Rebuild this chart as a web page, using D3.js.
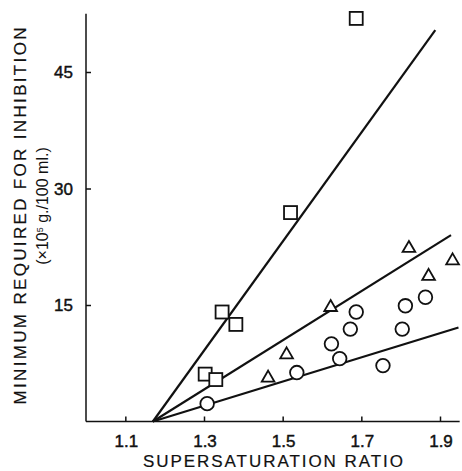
<!DOCTYPE html>
<html>
<head>
<meta charset="utf-8">
<script src="https://cdn.jsdelivr.net/npm/d3@7"></script>
<style>
  body { margin: 0; background: #fff; }
  text { font-family: "Liberation Sans", Arial, sans-serif; fill: #111; }
</style>
</head>
<body>
<div id="chart"></div>
<script>
// data
var squareX = [1.303, 1.330, 1.346, 1.381, 1.520, 1.687];
var squareY = [6.1, 5.4, 14.1, 12.5, 26.9, 51.9];

var triangleX = [1.463, 1.510, 1.622, 1.821, 1.871, 1.932];
var triangleY = [5.6, 8.6, 14.7, 22.3, 18.7, 20.7];

var circleX = [1.308, 1.536, 1.645, 1.624, 1.672, 1.687, 1.755, 1.804, 1.812, 1.863];
var circleY = [2.3, 6.3, 8.1, 10.0, 11.9, 14.1, 7.2, 11.9, 14.9, 16.0];

// fitted lines: start and end points
var lineStart = [1.17, 0];
var squareLineEnd = [1.888, 50.4];
var triangleLineEnd = [1.928, 24.0];
var circleLineEnd = [1.947, 12.1];

var xTicks = [1.1, 1.3, 1.5, 1.7, 1.9];
var yTicks = [15, 30, 45];

var width = 462, height = 471;

var svg = d3.select("#chart")
    .append("svg")
    .attr("width", width)
    .attr("height", height);

// scales
var x = d3.scaleLinear().domain([1.0, 1.9]).range([86, 440]);
var y = d3.scaleLinear().domain([0, 45]).range([421.5, 72]);

var xMax = 1.95, yMax = 52.5;

// axes (ticks point inward)
svg.append("g")
    .attr("transform", "translate(0," + y(0) + ")")
    .call(d3.axisTop(x).tickValues(xTicks).tickSize(5).tickFormat(""))
    .call(function(g) {
        g.select(".domain").remove();
        g.selectAll(".tick line").attr("stroke", "#111").attr("stroke-width", 1.5);
    });

svg.append("g")
    .attr("transform", "translate(" + x(1.0) + ",0)")
    .call(d3.axisRight(y).tickValues(yTicks).tickSize(5).tickFormat(""))
    .call(function(g) {
        g.select(".domain").remove();
        g.selectAll(".tick line").attr("stroke", "#111").attr("stroke-width", 1.5);
    });

// axis lines
svg.append("line")
    .attr("x1", x(1.0)).attr("x2", x(xMax))
    .attr("y1", y(0)).attr("y2", y(0))
    .attr("stroke", "#111").attr("stroke-width", 1.5);
svg.append("line")
    .attr("x1", x(1.0)).attr("x2", x(1.0))
    .attr("y1", y(0)).attr("y2", y(yMax))
    .attr("stroke", "#111").attr("stroke-width", 1.5);

// tick labels
svg.selectAll(".xlab")
    .data(xTicks)
    .enter().append("text")
    .attr("x", function(d) { return x(d) + 1; })
    .attr("y", 447)
    .attr("text-anchor", "middle")
    .style("font-size", "17px")
    .style("stroke", "#111").style("stroke-width", 0.45)
    .text(function(d) { return d.toFixed(1); });

svg.selectAll(".ylab")
    .data(yTicks)
    .enter().append("text")
    .attr("x", 73)
    .attr("y", function(d) { return y(d) + 6; })
    .attr("text-anchor", "end")
    .style("font-size", "17px")
    .style("stroke", "#111").style("stroke-width", 0.45)
    .text(function(d) { return d; });

// axis titles
svg.append("text")
    .attr("x", 273)
    .attr("y", 467)
    .attr("text-anchor", "middle")
    .attr("textLength", 260)
    .attr("lengthAdjust", "spacing")
    .style("font-size", "17px")
    .style("stroke", "#111").style("stroke-width", 0.2)
    .text("SUPERSATURATION RATIO");

svg.append("text")
    .attr("transform", "translate(26,216) rotate(-90)")
    .attr("text-anchor", "middle")
    .attr("textLength", 377)
    .attr("lengthAdjust", "spacing")
    .style("font-size", "17px")
    .style("stroke", "#111").style("stroke-width", 0.2)
    .text("MINIMUM REQUIRED FOR INHIBITION");

var sub = svg.append("text")
    .attr("transform", "translate(48,206) rotate(-90)")
    .attr("text-anchor", "middle")
    .style("font-size", "16px");
sub.append("tspan").text("(\u00D710");
sub.append("tspan").attr("dy", -5).style("font-size", "9px").text("5");
sub.append("tspan").attr("dy", 5).text(" g./100 ml.)");

// regression lines
[squareLineEnd, triangleLineEnd, circleLineEnd].forEach(function(end) {
    svg.append("line")
        .attr("x1", x(lineStart[0])).attr("y1", y(lineStart[1]))
        .attr("x2", x(end[0])).attr("y2", y(end[1]))
        .attr("stroke", "#111")
        .attr("stroke-width", 2.2);
});

// markers
var squares = squareX.map(function(d, i) { return {x: d, y: squareY[i]}; });
var triangles = triangleX.map(function(d, i) { return {x: d, y: triangleY[i]}; });
var circles = circleX.map(function(d, i) { return {x: d, y: circleY[i]}; });

svg.selectAll(".sq")
    .data(squares)
    .enter().append("rect")
    .attr("x", function(d) { return x(d.x) - 6.5; })
    .attr("y", function(d) { return y(d.y) - 6.5; })
    .attr("width", 13).attr("height", 13)
    .attr("fill", "#fff")
    .attr("stroke", "#111")
    .attr("stroke-width", 1.8);

svg.selectAll(".tri")
    .data(triangles)
    .enter().append("path")
    .attr("d", d3.symbol().type(d3.symbolTriangle).size(70))
    .attr("transform", function(d) { return "translate(" + x(d.x) + "," + y(d.y) + ")"; })
    .attr("fill", "#fff")
    .attr("stroke", "#111")
    .attr("stroke-width", 1.8);

svg.selectAll(".ci")
    .data(circles)
    .enter().append("circle")
    .attr("cx", function(d) { return x(d.x); })
    .attr("cy", function(d) { return y(d.y); })
    .attr("r", 6.8)
    .attr("fill", "#fff")
    .attr("stroke", "#111")
    .attr("stroke-width", 1.8);
</script>
</body>
</html>
